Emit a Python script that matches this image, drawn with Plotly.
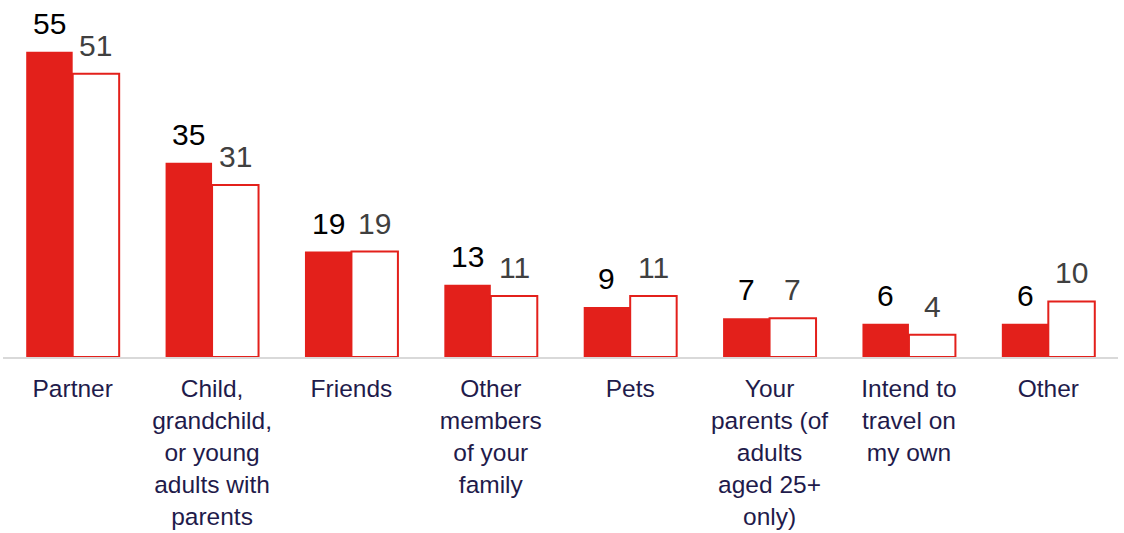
import plotly.graph_objects as go

# Who respondents intend to travel with (%), current wave vs previous wave
categories = [
    "Partner",
    "Child,<br>grandchild,<br>or young<br>adults with<br>parents",
    "Friends",
    "Other<br>members<br>of your<br>family",
    "Pets",
    "Your<br>parents (of<br>adults<br>aged 25+<br>only)",
    "Intend to<br>travel on<br>my own",
    "Other",
]
current = [55, 35, 19, 13, 9, 7, 6, 6]
previous = [51, 31, 19, 11, 11, 7, 4, 10]

RED = "#E3201B"
NAVY = "#1F1B4B"
FONT = "Liberation Sans, Arial, sans-serif"

fig = go.Figure()
fig.add_trace(go.Bar(
    x=categories, y=current, name="Current",
    marker=dict(color=RED, line=dict(color=RED, width=0)),
))
fig.add_trace(go.Bar(
    x=categories, y=previous, name="Previous",
    marker=dict(color="white", line=dict(color=RED, width=2)),
))

# Value labels above each bar
half_bar = 23.2
for cat, v in zip(categories, current):
    fig.add_annotation(x=cat, y=v, xref="x", yref="y", text=str(v),
                       showarrow=False, yanchor="bottom", xshift=-half_bar, yshift=10,
                       font=dict(family=FONT, size=30, color="#000000"))
for cat, v in zip(categories, previous):
    fig.add_annotation(x=cat, y=v, xref="x", yref="y", text=str(v),
                       showarrow=False, yanchor="bottom", xshift=half_bar, yshift=10,
                       font=dict(family=FONT, size=30, color="#404040"))

fig.update_layout(
    width=1124, height=533,
    margin=dict(l=3, r=6, t=0, b=176),
    paper_bgcolor="white", plot_bgcolor="white",
    barmode="group", bargap=0.333, bargroupgap=0,
    showlegend=False,
    font=dict(family=FONT),
)
fig.update_xaxes(
    showline=True, linecolor="#D9D9D9", linewidth=2,
    showgrid=False, ticks="", ticklabelstandoff=9, automargin=False,
    tickfont=dict(family=FONT, size=24.5, color=NAVY),
)
fig.update_yaxes(range=[0, 64.3], visible=False, showgrid=False, zeroline=False)

fig.write_html("out.html")
